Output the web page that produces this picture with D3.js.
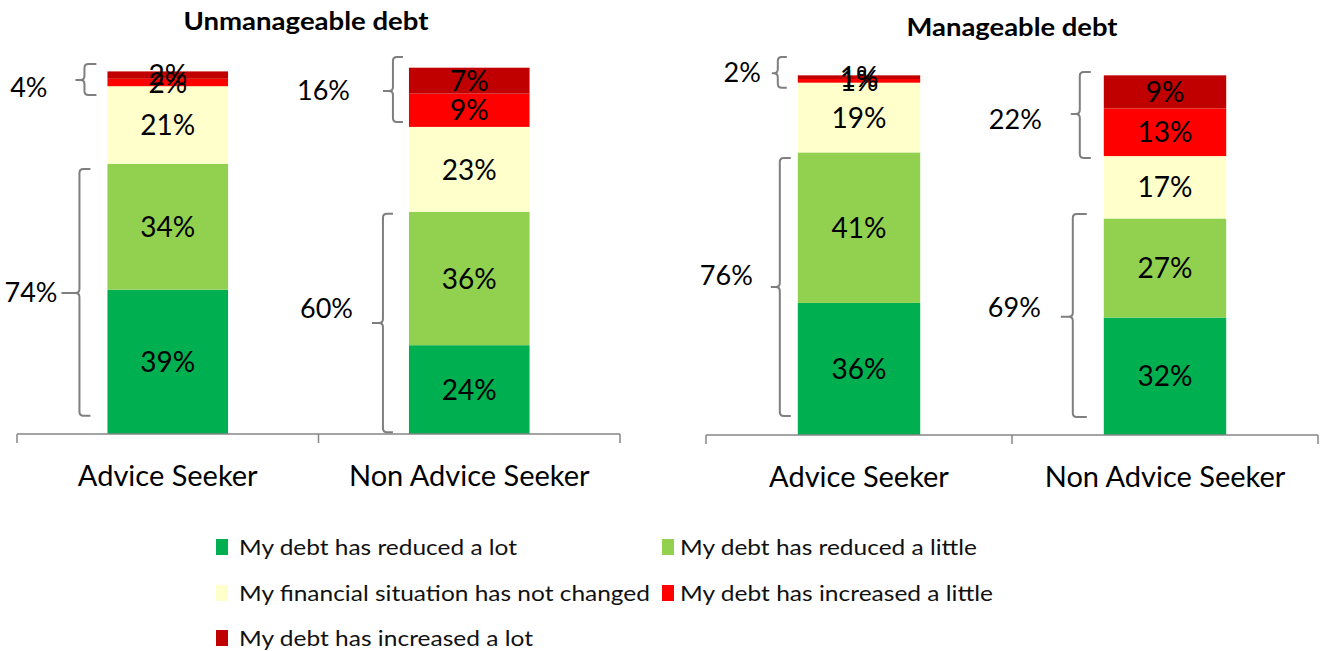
<!DOCTYPE html>
<html><head><meta charset="utf-8">
<script src="https://cdn.jsdelivr.net/npm/d3@7"></script>
<style>
html,body{margin:0;padding:0;background:#fff;}
svg{display:block;font-family:Lato,"Open Sans",sans-serif;}
</style></head>
<body>
<svg id="chart" width="1325" height="651"></svg>
<script>
// ---------- data ----------
const categories = ["Advice Seeker", "Non Advice Seeker"];
const seriesNames = [
  "My debt has reduced a lot",
  "My debt has reduced a little",
  "My financial situation has not changed",
  "My debt has increased a little",
  "My debt has increased a lot"
];
const seriesColors = ["#00B050", "#92D050", "#FFFFCC", "#FF0000", "#C00000"];
const panelTitles = ["Unmanageable debt", "Manageable debt"];
// values per panel: [series][category]
const unmanageableReducedLot    = [39, 24];
const unmanageableReducedLittle = [34, 36];
const unmanageableNoChange      = [21, 23];
const unmanageableIncLittle     = [2, 9];
const unmanageableIncLot        = [2, 7];
const manageableReducedLot      = [36, 32];
const manageableReducedLittle   = [41, 27];
const manageableNoChange        = [19, 17];
const manageableIncLittle       = [1, 13];
const manageableIncLot          = [1, 9];
// bracket summaries: label, category index, range in % (lo, hi, nub)
const unmanageableBrackets = [
  {label:"4%",  cat:0, lo:91.6, hi:100,  nub:95.7},
  {label:"74%", cat:0, lo:4.9,  hi:71.6, nub:38.1},
  {label:"16%", cat:1, lo:84.3, hi:101.9,nub:92.7},
  {label:"60%", cat:1, lo:0.5,  hi:59.5, nub:30}
];
const manageableBrackets = [
  {label:"2%",  cat:0, lo:94.6, hi:103,  nub:98.6},
  {label:"76%", cat:0, lo:5.2,  hi:75.5, nub:40.3},
  {label:"22%", cat:1, lo:75.5, hi:98.9, nub:87.5},
  {label:"69%", cat:1, lo:4.9,  hi:60.2, nub:32.2}
];

// ---------- layout (styles / positions) ----------
const panels = [
  { title: panelTitles[0], titleX: 306, titleY: 30, titleW: 245, range:[17,620], y0:434, y100:64,
    values:[unmanageableReducedLot, unmanageableReducedLittle, unmanageableNoChange, unmanageableIncLittle, unmanageableIncLot],
    brackets: unmanageableBrackets,
    bLayout: [ {bx:-23, serif:12, nubLen:9,  tx:-60, ty:7},
               {bx:-28, serif:11, nubLen:18, tx:-50, ty:-1},
               {bx:-16, serif:10, nubLen:10, tx:-59, ty:-1},
               {bx:-26, serif:10, nubLen:11, tx:-56, ty:-15} ] },
  { title: panelTitles[1], titleX: 1012, titleY: 36, titleW: 211, range:[706,1318], y0:435, y100:68,
    values:[manageableReducedLot, manageableReducedLittle, manageableNoChange, manageableIncLittle, manageableIncLot],
    brackets: manageableBrackets,
    bLayout: [ {bx:-20, serif:9,  nubLen:6,  tx:-37, ty:-1},
               {bx:-18, serif:11, nubLen:9,  tx:-45, ty:-12},
               {bx:-24, serif:11, nubLen:9,  tx:-62, ty:5},
               {bx:-31, serif:14, nubLen:12, tx:-63, ty:-10} ] }
];

const svg = d3.select("#chart");
const axisColor = "#868686";
const bracketColor = "#7F7F7F";

panels.forEach(p => {
  const g = svg.append("g");
  const x = d3.scaleBand().domain(categories).range(p.range).paddingInner(0.6).paddingOuter(0.3);
  const y = d3.scaleLinear().domain([0,100]).range([p.y0, p.y100]);

  // title
  g.append("text").attr("x", p.titleX).attr("y", p.titleY)
    .attr("text-anchor","middle").attr("font-weight","bold").attr("font-size",25)
    .attr("textLength", p.titleW).attr("lengthAdjust","spacingAndGlyphs")
    .attr("fill","#000").text(p.title);

  // stacked data
  const rows = categories.map((c,i) => {
    const r = {cat:c};
    seriesNames.forEach((s,k) => r[s] = p.values[k][i]);
    return r;
  });
  const stack = d3.stack().keys(seriesNames)(rows);

  stack.forEach((layer,k) => {
    g.append("g").selectAll("rect").data(layer).join("rect")
      .attr("x", d => x(d.data.cat))
      .attr("width", x.bandwidth())
      .attr("y", d => y(d[1]))
      .attr("height", d => y(d[0]) - y(d[1]))
      .attr("fill", seriesColors[k]);
  });
  stack.forEach((layer,k) => {
    g.append("g").selectAll("text").data(layer).join("text")
      .attr("x", d => x(d.data.cat) + x.bandwidth()/2)
      .attr("y", d => (y(d[0]) + y(d[1]))/2)
      .attr("dy","0.36em")
      .attr("text-anchor","middle")
      .attr("font-size",28)
      .attr("fill","#000")
      .text(d => (d[1]-d[0]) + "%");
  });

  // category axis
  const axis = d3.axisBottom(x).tickSize(0).tickPadding(30);
  const ag = g.append("g").attr("transform", `translate(0,${p.y0})`).call(axis);
  ag.select(".domain").attr("stroke", axisColor).attr("stroke-width",1.5)
    .attr("d", `M${p.range[0]},0H${p.range[1]}`);
  ag.selectAll(".tick text").attr("font-size",29).attr("fill","#000")
    .attr("font-family","Lato, sans-serif").attr("dy","0.75em");
  const boundaries = [p.range[0], ...categories.slice(1).map(c => x(c) - x.step()*x.paddingInner()/2), p.range[1]];
  ag.selectAll("line.bound").data(boundaries).join("line").attr("class","bound")
    .attr("x1", d=>d).attr("x2", d=>d).attr("y1",0).attr("y2",9)
    .attr("stroke", axisColor).attr("stroke-width",1.5);

  // brackets
  p.brackets.forEach((b,i) => {
    const L = p.bLayout[i];
    const bx = x(categories[b.cat]) + L.bx;
    const top = y(b.hi), bot = y(b.lo), mid = y(b.nub);
    const r = 4;
    const path = `M${bx+L.serif},${top} L${bx+r},${top} Q${bx},${top} ${bx},${top+r}` +
      ` L${bx},${mid-r} Q${bx},${mid} ${bx-r},${mid} L${bx-L.nubLen},${mid}` +
      ` M${bx-r},${mid} Q${bx},${mid} ${bx},${mid+r}` +
      ` L${bx},${bot-r} Q${bx},${bot} ${bx+r},${bot} L${bx+L.serif},${bot}`;
    g.append("path").attr("d", path).attr("fill","none")
      .attr("stroke", bracketColor).attr("stroke-width",2);
    g.append("text").attr("x", x(categories[b.cat]) + L.tx).attr("y", mid + L.ty)
      .attr("dy","0.36em").attr("text-anchor","end").attr("font-size",27)
      .attr("fill","#000").text(b.label);
  });
});

// legend
const legendPos = [
  {x:216, y:547, w:278}, {x:662, y:547, w:297},
  {x:216, y:593, w:411}, {x:662, y:593, w:313},
  {x:216, y:638, w:294}
];
const lg = svg.append("g");
seriesNames.forEach((s,k) => {
  const pos = legendPos[k];
  lg.append("rect").attr("x", pos.x).attr("y", pos.y-8).attr("width",12).attr("height",16)
    .attr("fill", seriesColors[k]);
  lg.append("text").attr("x", pos.x + (k % 2 ? 18 : 23)).attr("y", pos.y).attr("dy","0.35em")
    .attr("font-size",22).attr("fill","#111")
    .attr("textLength", pos.w).attr("lengthAdjust","spacingAndGlyphs").text(s);
});
</script>
</body></html>
